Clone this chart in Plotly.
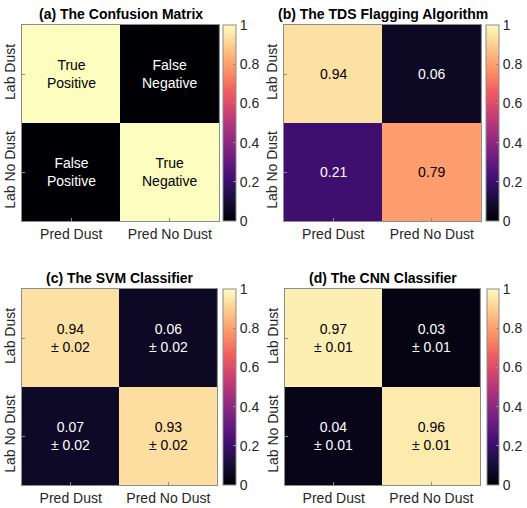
import plotly.graph_objects as go

# ---- data ----
panel_titles = [
    "(a) The Confusion Matrix",
    "(b) The TDS Flagging Algorithm",
    "(c) The SVM Classifier",
    "(d) The CNN Classifier",
]
pred_labels = ["Pred Dust", "Pred No Dust"]
lab_labels = ["Lab Dust", "Lab No Dust"]

ideal_values = [[1.0, 0.0], [0.0, 1.0]]
ideal_text = [["True<br>Positive", "False<br>Negative"],
              ["False<br>Positive", "True<br>Negative"]]

tds_values = [[0.94, 0.06], [0.21, 0.79]]

svm_values = [[0.94, 0.06], [0.07, 0.93]]
svm_err = [[0.02, 0.02], [0.02, 0.02]]

cnn_values = [[0.97, 0.03], [0.04, 0.96]]
cnn_err = [[0.01, 0.01], [0.01, 0.01]]

colorbar_ticks = [0, 0.2, 0.4, 0.6, 0.8, 1]

# ---- layout geometry (pixels) ----
W, H = 527, 508
FONT = "Liberation Sans, Arial, Helvetica, sans-serif"
FRAME = "#8c8c8c"
TXT = "#262626"

# (x0, x1, y0_top, y1_bottom, cbar_x0, cbar_x1)
boxes = [
    (22, 220, 25, 221, 224, 237),
    (285, 483, 25, 221, 488, 501),
    (22, 218, 289, 485, 224, 237),
    (286, 482, 289, 485, 489, 501),
]
title_y = [14, 14, 278, 278]


def fmt_cells(vals, errs=None):
    out = []
    for i in range(2):
        row = []
        for j in range(2):
            s = f"{vals[i][j]:.2f}"
            if errs is not None:
                s += f"<br>± {errs[i][j]:.2f}"
            row.append(s)
        out.append(row)
    return out


panels = [
    (ideal_values, ideal_text),
    (tds_values, fmt_cells(tds_values)),
    (svm_values, fmt_cells(svm_values, svm_err)),
    (cnn_values, fmt_cells(cnn_values, cnn_err)),
]

fig = go.Figure()
annotations = []

for k, ((vals, texts), box) in enumerate(zip(panels, boxes)):
    x0, x1, yt, yb, cx0, cx1 = box
    xa = "x" if k == 0 else f"x{k + 1}"
    ya = "y" if k == 0 else f"y{k + 1}"
    xkey = "xaxis" if k == 0 else f"xaxis{k + 1}"
    ykey = "yaxis" if k == 0 else f"yaxis{k + 1}"

    fig.add_trace(go.Heatmap(
        z=vals, x=[0, 1], y=[0, 1],
        xaxis=xa, yaxis=ya,
        colorscale="Magma", zmin=0, zmax=1,
        hoverinfo="skip",
        colorbar=dict(
            x=cx0 / W, xanchor="left", xref="paper", xpad=0,
            y=(H - yt) / H, yanchor="top", yref="paper", ypad=0,
            len=yb - yt, lenmode="pixels",
            thickness=cx1 - cx0, thicknessmode="pixels",
            outlinecolor=FRAME, outlinewidth=1,
            tickvals=colorbar_ticks,
            ticktext=[f"{t:g}" for t in colorbar_ticks],
            ticks="inside", ticklen=3, tickcolor=FRAME,
            tickfont=dict(family=FONT, size=14, color=TXT),
        ),
    ))

    fig.layout[xkey] = dict(
        domain=[x0 / W, x1 / W], anchor=ya,
        range=[-0.5, 1.5], tickvals=[0, 1], ticktext=pred_labels,
        ticks="inside", ticklen=3, tickcolor=FRAME,
        showline=True, linecolor=FRAME, linewidth=1, mirror=True,
        showgrid=False, zeroline=False, fixedrange=True,
        tickfont=dict(family=FONT, size=14, color=TXT),
    )
    fig.layout[ykey] = dict(
        domain=[(H - yb) / H, (H - yt) / H], anchor=xa,
        range=[1.5, -0.5], tickvals=[0, 1], ticktext=lab_labels,
        tickangle=-90,
        ticks="inside", ticklen=3, tickcolor=FRAME,
        showline=True, linecolor=FRAME, linewidth=1, mirror=True,
        showgrid=False, zeroline=False, fixedrange=True,
        tickfont=dict(family=FONT, size=14, color=TXT),
    )

    # cell labels: dark text on light cells, light text on dark cells
    for i in range(2):
        for j in range(2):
            annotations.append(dict(
                x=j, y=i, xref=xa, yref=ya, text=texts[i][j],
                showarrow=False,
                font=dict(family=FONT, size=14,
                          color="#000000" if vals[i][j] > 0.5 else "#ffffff"),
            ))

    annotations.append(dict(
        x=(x0 + x1) / 2 / W, y=(H - title_y[k]) / H,
        xref="paper", yref="paper", xanchor="center", yanchor="middle",
        text=f"<b>{panel_titles[k]}</b>", showarrow=False,
        font=dict(family=FONT, size=14, color="#000000"),
    ))

fig.update_layout(
    width=W, height=H,
    margin=dict(l=0, r=0, t=0, b=0),
    paper_bgcolor="white", plot_bgcolor="white",
    annotations=annotations,
    showlegend=False,
)

fig.write_html("out.html")
